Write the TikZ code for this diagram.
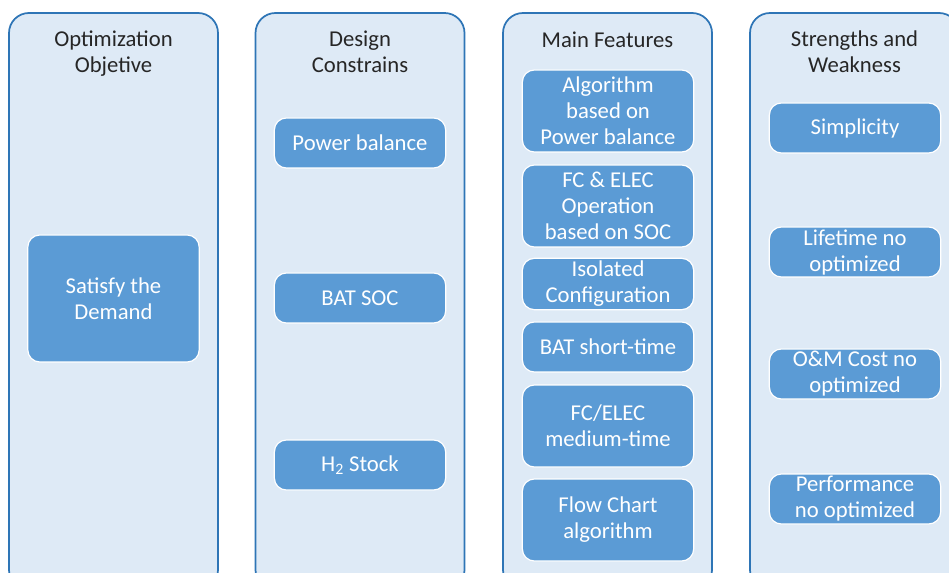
\documentclass[tikz,border=0pt]{standalone}
\usepackage{fontspec}
\setmainfont{Carlito}
\definecolor{colfill}{HTML}{DEEAF6}
\definecolor{colborder}{HTML}{2E75B6}
\definecolor{boxfill}{HTML}{5B9BD5}
\definecolor{titletext}{HTML}{262626}
\begin{document}
\begin{tikzpicture}[x=0.75pt,y=-0.75pt,
  column/.style={draw=colborder, fill=colfill, line width=1.3pt, rounded corners=15pt,
    minimum width=156.75pt, minimum height=432.75pt, inner sep=0pt},
  title/.style={text=titletext, align=center, font=\fontsize{17}{19.5}\selectfont, inner sep=0pt, anchor=base},
  item/.style={fill=boxfill, draw=white, line width=0.9pt, rounded corners=9pt, text=white,
    align=center, font=\fontsize{17}{19.5}\selectfont, minimum width=128.5pt, inner sep=0pt},
  h50/.style={minimum height=37.5pt},
  h52/.style={minimum height=38.5pt},
  h82/.style={minimum height=61.5pt},
  h127/.style={minimum height=95.25pt}]
\useasboundingbox (0,0) rectangle (949,573);
\clip (0,0) rectangle (949,573);
\fill[white] (0,0) rectangle (949,573);
% columns
\node[column] (col1) at (113.5,301.5) {};
\node[column] (col2) at (360,301.5) {};
\node[column] (col3) at (607.5,301.5) {};
\node[column] (col4) at (854.5,301.5) {};
% titles (anchor at baseline of last line)
\node[title] (t1) at (113.5,72.5) {Optimization\\Objetive};
\node[title] (t2) at (360,72.5) {Design\\Constrains};
\node[title] (t3) at (607.5,48) {Main Features};
\node[title] (t4) at (854.5,72.5) {Strengths and\\Weakness};
% column 1
\node[item,h127] (sat) at (113.5,298.5) {Satisfy the\\Demand};
% column 2
\node[item,h50] (pb) at (360,143) {Power balance};
\node[item,h50] (soc) at (360,298) {BAT SOC};
\node[item,h50] (h2) at (360,465) {H\textsubscript{2} Stock};
% column 3
\node[item,h82] (alg) at (608,111) {Algorithm\\based on\\Power balance};
\node[item,h82] (fc) at (608,206) {FC \& ELEC\\Operation\\based on SOC};
\node[item,h52] (iso) at (608,284) {Isolated\\Configuration};
\node[item,h50] (bat) at (608,347) {BAT short-time};
\node[item,h82] (med) at (608,426) {FC/ELEC\\medium-time};
\node[item,h82] (flow) at (608,520) {Flow Chart\\algorithm};
% column 4
\node[item,h50] (simp) at (855,128) {Simplicity};
\node[item,h50] (life) at (855,252) {Lifetime no\\optimized};
\node[item,h50] (om) at (855,374) {O\&M Cost no\\optimized};
\node[item,h50] (perf) at (855,499) {Performance\\no optimized};
\end{tikzpicture}
\end{document}
